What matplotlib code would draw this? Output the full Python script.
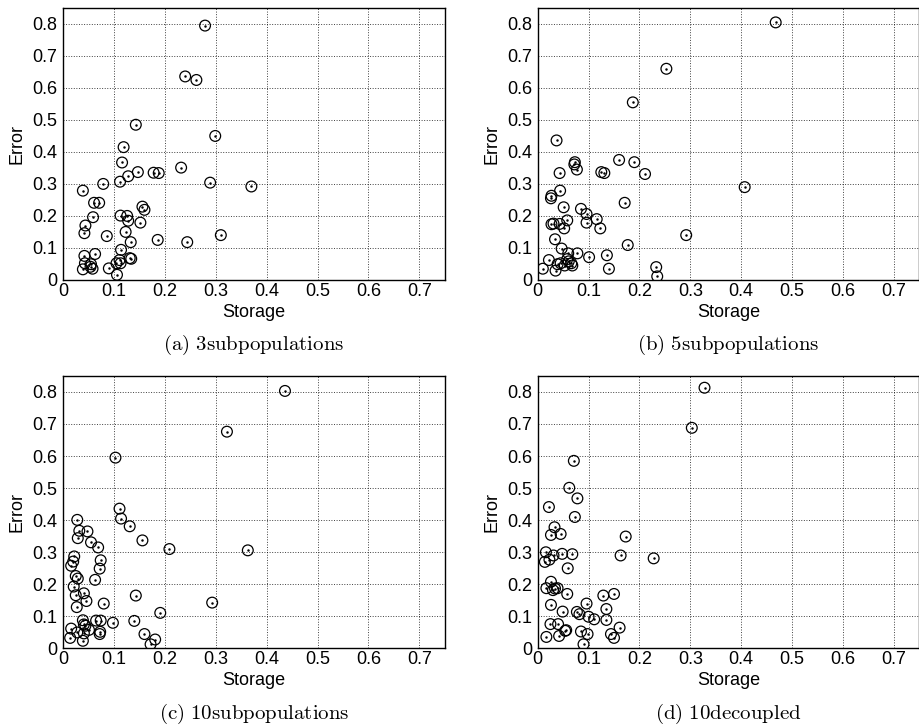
import matplotlib.pyplot as plt

plt.rcParams['font.family'] = ['Liberation Sans', 'DejaVu Sans']
plt.rcParams['mathtext.fontset'] = 'cm'

# (a) 3subpopulations
a_storage = [0.279, 0.240, 0.262, 0.143, 0.299, 0.119, 0.116, 0.232, 0.147, 0.178,
             0.188, 0.128, 0.112, 0.079, 0.289, 0.370, 0.039, 0.061, 0.071, 0.156,
             0.160, 0.059, 0.113, 0.126, 0.128, 0.152, 0.044, 0.042, 0.123, 0.086,
             0.186, 0.133, 0.244, 0.310, 0.114, 0.042, 0.063, 0.131, 0.134, 0.043,
             0.055, 0.054, 0.058, 0.039, 0.090, 0.105, 0.111, 0.113, 0.106]
a_error = [0.795, 0.636, 0.625, 0.485, 0.450, 0.415, 0.367, 0.351, 0.337, 0.335,
           0.334, 0.324, 0.307, 0.300, 0.304, 0.292, 0.279, 0.241, 0.241, 0.229,
           0.219, 0.196, 0.201, 0.200, 0.185, 0.179, 0.170, 0.146, 0.150, 0.137,
           0.125, 0.118, 0.118, 0.140, 0.094, 0.075, 0.081, 0.068, 0.066, 0.052,
           0.049, 0.041, 0.035, 0.033, 0.036, 0.052, 0.062, 0.052, 0.016]

# (b) 5subpopulations
b_storage = [0.468, 0.253, 0.187, 0.037, 0.160, 0.073, 0.190, 0.072, 0.077, 0.043,
             0.125, 0.131, 0.211, 0.407, 0.044, 0.027, 0.026, 0.171, 0.051, 0.085,
             0.096, 0.058, 0.116, 0.096, 0.027, 0.031, 0.043, 0.052, 0.123, 0.034,
             0.292, 0.177, 0.047, 0.060, 0.078, 0.136, 0.101, 0.022, 0.058, 0.061,
             0.045, 0.039, 0.053, 0.066, 0.068, 0.010, 0.035, 0.140, 0.233, 0.235]
b_error = [0.805, 0.660, 0.555, 0.436, 0.375, 0.368, 0.368, 0.361, 0.345, 0.334,
           0.337, 0.334, 0.331, 0.290, 0.279, 0.263, 0.255, 0.241, 0.227, 0.222,
           0.206, 0.186, 0.190, 0.179, 0.174, 0.176, 0.175, 0.161, 0.161, 0.127,
           0.140, 0.109, 0.098, 0.083, 0.083, 0.077, 0.071, 0.062, 0.065, 0.058,
           0.052, 0.049, 0.045, 0.052, 0.045, 0.035, 0.029, 0.035, 0.040, 0.011]

# (c) 10subpopulations
c_storage = [0.436, 0.322, 0.103, 0.111, 0.114, 0.131, 0.028, 0.032, 0.048, 0.029,
             0.156, 0.055, 0.069, 0.209, 0.363, 0.022, 0.074, 0.020, 0.016, 0.072,
             0.025, 0.029, 0.063, 0.021, 0.041, 0.025, 0.143, 0.046, 0.080, 0.027,
             0.293, 0.191, 0.039, 0.065, 0.074, 0.140, 0.098, 0.041, 0.044, 0.016,
             0.051, 0.028, 0.073, 0.072, 0.041, 0.014, 0.160, 0.181, 0.039, 0.172]
c_error = [0.803, 0.676, 0.595, 0.436, 0.405, 0.381, 0.401, 0.367, 0.365, 0.344,
           0.337, 0.331, 0.315, 0.310, 0.306, 0.287, 0.275, 0.271, 0.258, 0.249,
           0.226, 0.218, 0.214, 0.193, 0.172, 0.166, 0.165, 0.148, 0.140, 0.129,
           0.143, 0.111, 0.088, 0.087, 0.087, 0.086, 0.080, 0.075, 0.071, 0.062,
           0.058, 0.050, 0.052, 0.045, 0.047, 0.033, 0.045, 0.028, 0.024, 0.013]

# (d) 10decoupled
d_storage = [0.328, 0.303, 0.071, 0.062, 0.078, 0.022, 0.073, 0.033, 0.026, 0.045,
             0.173, 0.016, 0.048, 0.068, 0.031, 0.163, 0.228, 0.023, 0.014, 0.059,
             0.026, 0.017, 0.030, 0.034, 0.039, 0.058, 0.129, 0.150, 0.096, 0.026,
             0.135, 0.049, 0.077, 0.082, 0.100, 0.111, 0.135, 0.025, 0.040, 0.161,
             0.056, 0.054, 0.085, 0.098, 0.144, 0.150, 0.042, 0.017, 0.090]
d_error = [0.813, 0.688, 0.585, 0.501, 0.468, 0.441, 0.410, 0.378, 0.354, 0.357,
           0.349, 0.300, 0.295, 0.294, 0.290, 0.290, 0.281, 0.277, 0.270, 0.250,
           0.208, 0.188, 0.182, 0.187, 0.188, 0.170, 0.165, 0.170, 0.140, 0.136,
           0.123, 0.115, 0.114, 0.107, 0.099, 0.091, 0.089, 0.076, 0.076, 0.065,
           0.057, 0.055, 0.053, 0.045, 0.045, 0.033, 0.039, 0.036, 0.013]

panels = [
    (a_storage, a_error, r'$\mathrm{(a)\ 3subpopulations}$', [0.0685, 0.615, 0.415, 0.374]),
    (b_storage, b_error, r'$\mathrm{(b)\ 5subpopulations}$', [0.5845, 0.615, 0.4145, 0.374]),
    (c_storage, c_error, r'$\mathrm{(c)\ 10subpopulations}$', [0.0685, 0.108, 0.415, 0.375]),
    (d_storage, d_error, r'$\mathrm{(d)\ 10decoupled}$', [0.5845, 0.108, 0.4145, 0.375]),
]

fig = plt.figure(figsize=(9.2, 7.27), dpi=100)

for xs, ys, caption, rect in panels:
    ax = fig.add_axes(rect)
    ax.scatter(xs, ys, s=60, facecolors='none', edgecolors='black', linewidths=0.9, zorder=3)
    ax.scatter(xs, ys, s=0.6, color='black', zorder=4)
    ax.set_xlim(0, 0.75)
    ax.set_ylim(0, 0.85)
    ax.set_xticks([0, 0.1, 0.2, 0.3, 0.4, 0.5, 0.6, 0.7])
    ax.set_xticklabels(['0', '0.1', '0.2', '0.3', '0.4', '0.5', '0.6', '0.7'])
    ax.set_yticks([0, 0.1, 0.2, 0.3, 0.4, 0.5, 0.6, 0.7, 0.8])
    ax.set_yticklabels(['0', '0.1', '0.2', '0.3', '0.4', '0.5', '0.6', '0.7', '0.8'])
    ax.tick_params(axis='x', length=0, labelsize=13, pad=2)
    ax.tick_params(axis='y', length=0, labelsize=13, pad=4)
    ax.grid(True, color='black', linestyle=':', linewidth=0.7, alpha=0.75)
    for sp in ax.spines.values():
        sp.set_linewidth(1.0)
    ax.set_xlabel('Storage', fontsize=13, labelpad=3)
    ax.set_ylabel('Error', fontsize=13, labelpad=5)
    ax.text(0.5, -0.24, caption, transform=ax.transAxes, ha='center', va='center', fontsize=15)

fig.savefig('out.png', dpi=100)
